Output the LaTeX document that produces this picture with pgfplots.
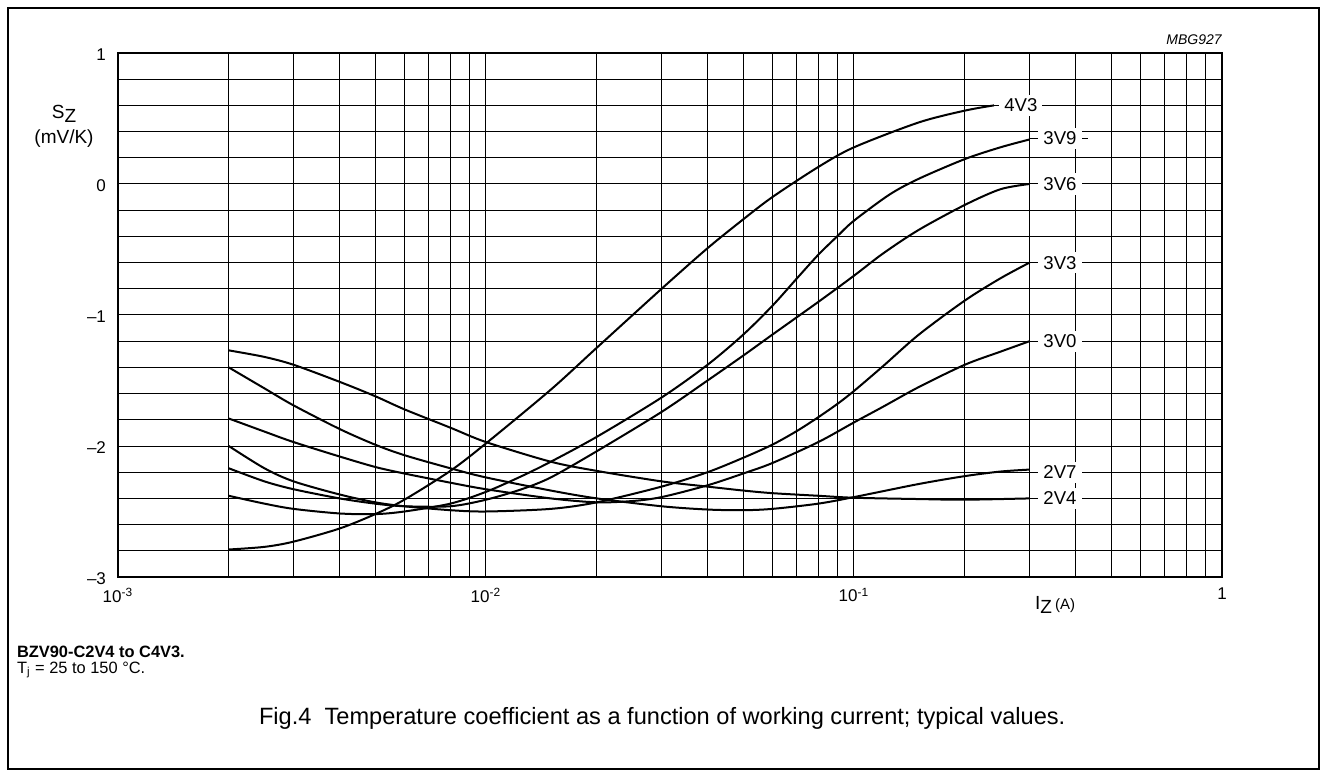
\documentclass[border=0pt]{standalone}
\usepackage{fontspec}
\setmainfont{Liberation Sans}
\usepackage{pgfplots}
\usepackage{pgfplotstable}
\pgfplotsset{compat=1.18}
\pgfplotstableread{
x y
0.002 -1.27
0.0025 -1.32
0.003 -1.38
0.004 -1.51
0.005 -1.62
0.006 -1.72
0.008 -1.86
0.01 -1.97
0.015 -2.12
0.02 -2.19
0.03 -2.27
0.04 -2.31
0.05 -2.34
0.06 -2.36
0.08 -2.38
0.1 -2.395
0.15 -2.405
0.2 -2.41
0.3 -2.40
}\dataTwoVFour
\pgfplotstableread{
x y
0.002 -1.40
0.0025 -1.56
0.003 -1.69
0.004 -1.87
0.005 -1.99
0.006 -2.07
0.008 -2.17
0.01 -2.24
0.015 -2.34
0.02 -2.40
0.03 -2.46
0.04 -2.485
0.05 -2.49
0.06 -2.48
0.08 -2.44
0.1 -2.39
0.15 -2.29
0.2 -2.23
0.25 -2.195
0.3 -2.18
}\dataTwoVSeven
\pgfplotstableread{
x y
0.002 -1.79
0.0025 -1.89
0.003 -1.97
0.004 -2.08
0.005 -2.16
0.006 -2.21
0.008 -2.28
0.01 -2.33
0.015 -2.40
0.02 -2.43
0.025 -2.42
0.03 -2.39
0.04 -2.30
0.05 -2.21
0.06 -2.13
0.08 -1.97
0.1 -1.82
0.12 -1.70
0.15 -1.55
0.2 -1.38
0.25 -1.28
0.3 -1.20
}\dataThreeVZero
\pgfplotstableread{
x y
0.002 -2.00
0.0025 -2.17
0.003 -2.27
0.004 -2.37
0.005 -2.43
0.006 -2.46
0.008 -2.49
0.01 -2.50
0.015 -2.48
0.02 -2.43
0.03 -2.31
0.04 -2.20
0.05 -2.09
0.06 -1.99
0.07 -1.885
0.08 -1.78
0.09 -1.68
0.1 -1.58
0.12 -1.39
0.15 -1.15
0.2 -0.89
0.25 -0.72
0.3 -0.60
}\dataThreeVThree
\pgfplotstableread{
x y
0.002 -2.17
0.0025 -2.27
0.003 -2.33
0.004 -2.40
0.005 -2.44
0.006 -2.46
0.008 -2.46
0.01 -2.41
0.0125 -2.33
0.015 -2.24
0.02 -2.04
0.03 -1.74
0.04 -1.50
0.05 -1.31
0.06 -1.15
0.08 -0.90
0.1 -0.70
0.12 -0.53
0.15 -0.35
0.2 -0.16
0.25 -0.04
0.3 0.0
}\dataThreeVSix
\pgfplotstableread{
x y
0.002 -2.38
0.0025 -2.44
0.003 -2.48
0.004 -2.515
0.005 -2.52
0.006 -2.50
0.008 -2.44
0.01 -2.35
0.0125 -2.23
0.015 -2.12
0.02 -1.93
0.03 -1.63
0.04 -1.38
0.05 -1.15
0.06 -0.93
0.07 -0.72
0.08 -0.54
0.09 -0.40
0.1 -0.28
0.125 -0.08
0.15 0.04
0.2 0.19
0.25 0.28
0.3 0.34
}\dataThreeVNine
\pgfplotstableread{
x y
0.002 -2.79
0.0025 -2.77
0.003 -2.73
0.004 -2.63
0.005 -2.52
0.006 -2.41
0.008 -2.19
0.01 -1.98
0.015 -1.57
0.02 -1.25
0.03 -0.80
0.04 -0.49
0.05 -0.27
0.06 -0.10
0.08 0.13
0.1 0.28
0.15 0.47
0.2 0.56
0.24 0.60
}\dataFourVThree
\begin{document}
\begin{tikzpicture}[x=1pt,y=1pt]
\useasboundingbox (-59,-100) rectangle (604.5,288.5);
\draw[line width=1.2pt] (-55,-96) rectangle (600.5,284.5);
\begin{axis}[at={(0,0)}, anchor=south west, scale only axis,
  width=552pt, height=262pt,
  xmode=log, xmin=1e-3, xmax=1, ymin=-3, ymax=1,
  xtick={0.001,0.01,0.1,1},
  xticklabels={10\textsuperscript{-3},10\textsuperscript{-2},10\textsuperscript{-1},1},
  minor xtick={0.002,0.003,0.004,0.005,0.006,0.007,0.008,0.009,0.02,0.03,0.04,0.05,0.06,0.07,0.08,0.09,0.2,0.3,0.4,0.5,0.6,0.7,0.8,0.9},
  ytick={-3,-2,-1,0,1},
  yticklabels={–3,–2,–1,0,1},
  minor ytick={-2.8,-2.6,-2.4,-2.2,-1.8,-1.6,-1.4,-1.2,-0.8,-0.6,-0.4,-0.2,0.2,0.4,0.6,0.8},
  grid=both,
  major grid style={black, line width=0.5pt},
  minor grid style={black, line width=0.5pt},
  major tick length=0pt, minor tick length=0pt,
  tick style={draw=none},
  axis line style={black, line width=0.6pt},
  tick label style={font=\fontsize{8.5}{10}\selectfont},
  xticklabel style={yshift=-2pt},
  yticklabel style={xshift=-2.5pt, yshift=-1pt},
  curve/.style={black, line width=1pt, smooth, no marks},
]
\addplot[curve] table[x=x,y=y] {\dataTwoVFour};
\addplot[curve] table[x=x,y=y] {\dataTwoVSeven};
\addplot[curve] table[x=x,y=y] {\dataThreeVZero};
\addplot[curve] table[x=x,y=y] {\dataThreeVThree};
\addplot[curve] table[x=x,y=y] {\dataThreeVSix};
\addplot[curve] table[x=x,y=y] {\dataThreeVNine};
\addplot[curve] table[x=x,y=y] {\dataFourVThree};
\draw[black, line width=0.5pt] (axis cs:0.3,0.35) -- (axis cs:0.433,0.35);
\tikzset{lab/.style={fill=white, inner xsep=2.5pt, inner ysep=2pt, font=\fontsize{9.3}{10}\selectfont}}
\node[lab] at (axis cs:0.284,0.6) {4V3};
\node[lab] at (axis cs:0.363,0.35) {3V9};
\node[lab] at (axis cs:0.363,0) {3V6};
\node[lab] at (axis cs:0.363,-0.6) {3V3};
\node[lab] at (axis cs:0.363,-1.2) {3V0};
\node[lab] at (axis cs:0.363,-2.2) {2V7};
\node[lab] at (axis cs:0.363,-2.4) {2V4};
\end{axis}
\node[anchor=south east, inner sep=0pt, font=\itshape\fontsize{7}{8}\selectfont] at (552,266) {MBG927};
\node[font=\fontsize{9.5}{10}\selectfont] at (-27,231.5) {S\raisebox{-0.35ex}{Z}};
\node[font=\fontsize{9.5}{10}\selectfont] at (-27,219) {(mV/K)};
\node[anchor=west, font=\fontsize{9.5}{10}\selectfont] at (455,-14) {I\raisebox{-0.45ex}{Z}\,{\fontsize{7.5}{8}\selectfont (A)}};
\node[anchor=west, font=\bfseries\fontsize{8.2}{10}\selectfont] at (-54,-37.5) {BZV90-C2V4 to C4V3.};
\node[anchor=west, font=\fontsize{8.2}{10}\selectfont] at (-54,-46.5) {T\textsubscript{j} = 25 to 150 °C.};
\node[anchor=west, font=\fontsize{11.8}{13}\selectfont] at (67,-70.5) {Fig.4\ \ Temperature coefficient as a function of working current; typical values.};
\end{tikzpicture}
\end{document}
